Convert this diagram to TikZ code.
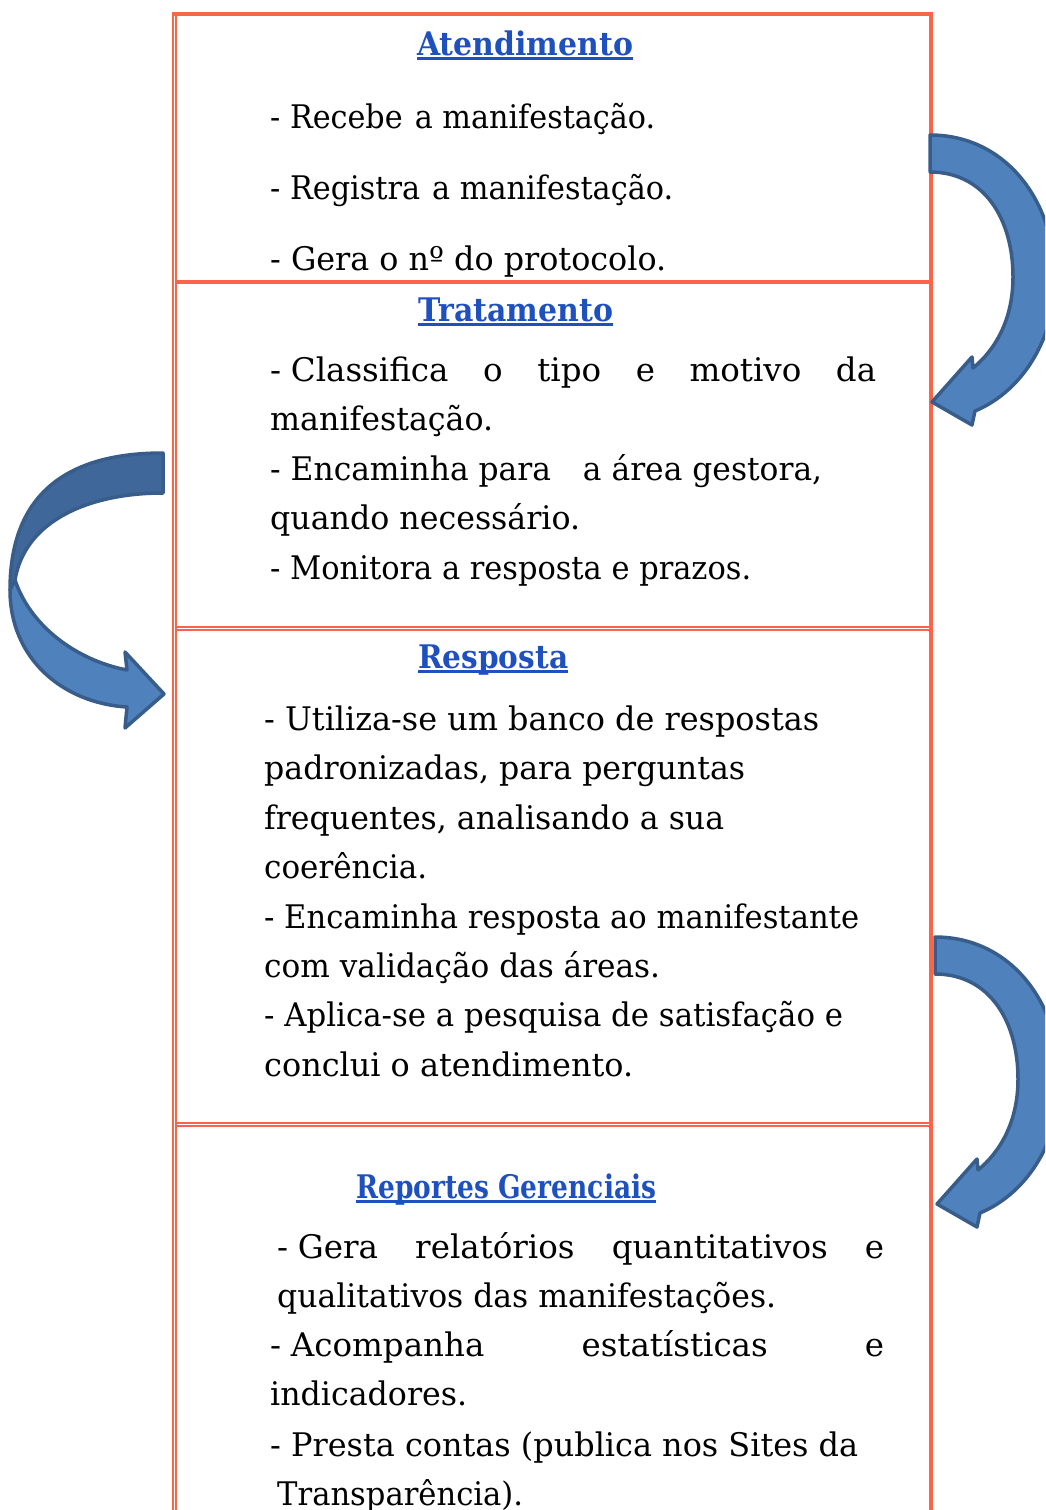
\documentclass[tikz,border=0pt]{standalone}
\usepackage{fontspec}
\setmainfont{DejaVu Serif}
\usepackage{graphicx}
\definecolor{boxred}{RGB}{250,100,72}
\definecolor{ttlblue}{RGB}{30,80,190}
\definecolor{arrfill}{RGB}{79,129,189}
\definecolor{arrdark}{RGB}{63,103,153}
\definecolor{arredge}{RGB}{56,93,138}
\newsavebox\fitbox
\newcommand\fitw[2]{\sbox\fitbox{#2}\pgfmathsetmacro\fitr{#1/\the\wd\fitbox}\scalebox{\fitr}[1]{\usebox\fitbox}}
\newcommand\justw[3]{\pgfmathsetmacro\jw{#1/#2}\scalebox{#2}[1]{\makebox[\jw pt][s]{#3}}}
\tikzset{
  txt/.style={anchor=base west, inner sep=0pt, font=\fontsize{32.5}{39}\selectfont},
  ttl/.style={anchor=base west, inner sep=0pt, text=ttlblue, font=\fontsize{32.5}{39}\selectfont\bfseries},
  uline/.style={draw=ttlblue, line width=2.7pt},
  thickred/.style={draw=boxred, line width=4pt},
  thinred/.style={draw=boxred, line width=1.9pt},
  arrowbody/.style={fill=arrfill, draw=arredge, line width=3.5pt, line join=round},
  arrowback/.style={fill=arrdark, draw=arredge, line width=3.5pt, line join=round},
}
\begin{document}
\begin{tikzpicture}[x=1pt,y=-1pt]
\useasboundingbox (0,0) rectangle (1045,1510);
\clip (0,0) rectangle (1045,1510);
% ---- box frame ----
\draw[thickred] (171.8,13.7) -- (933.3,13.7);
\draw[thinred] (172.8,11.7) -- (172.8,1510);
\draw[thinred] (176,13.7) -- (176,1510);
\draw[thickred] (931.3,11.7) -- (931.3,1510);
\draw[thickred] (176,282) -- (931.3,282);
\draw[thinred] (176,627) -- (931.3,627);
\draw[thinred] (176,630.3) -- (931.3,630.3);
\draw[thinred] (176,1123) -- (931.3,1123);
\draw[thinred] (176,1126.3) -- (931.3,1126.3);
% ---- box 1 ----
\node[ttl] (t1) at (417,55) {\fitw{216}{Atendimento}};
\draw[uline] ([yshift=-3.7pt]t1.base west) -- ([yshift=-3.7pt]t1.base east);
\node[txt] (a1) at (270,128) {\fitw{385}{- Recebe\hspace{0.08em} a manifestação.}};
\node[txt] (a2) at (270,199) {\fitw{403}{- Registra\hspace{0.08em} a manifestação.}};
\node[txt] (a3) at (270,270) {\fitw{396}{- Gera o nº do protocolo.}};
% ---- box 2 ----
\node[ttl] (t2) at (418,321) {\fitw{195}{Tratamento}};
\draw[uline] ([yshift=-3.7pt]t2.base west) -- ([yshift=-3.7pt]t2.base east);
\node[txt] (b1) at (270,381) {\justw{606}{1}{-\hspace{0.3em}Classifica o tipo e motivo da}};
\node[txt] (b2) at (270,430) {\fitw{223}{manifestação.}};
\node[txt] (b3) at (270,480) {\fitw{552}{- Encaminha para\hspace{0.7em} a área gestora,}};
\node[txt] (b4) at (270,529) {\fitw{310}{quando necessário.}};
\node[txt] (b5) at (270,579) {\fitw{481}{- Monitora a resposta e prazos.}};
% ---- box 3 ----
\node[ttl] (t3) at (418,668) {\fitw{150}{Resposta}};
\draw[uline] ([yshift=-3.7pt]t3.base west) -- ([yshift=-3.7pt]t3.base east);
\node[txt] (c1) at (264,730) {\fitw{555}{- Utiliza-se um banco de respostas}};
\node[txt] (c2) at (264,779) {\fitw{481}{padronizadas, para perguntas}};
\node[txt] (c3) at (264,829) {\fitw{460}{frequentes, analisando a sua}};
\node[txt] (c4) at (264,878) {\fitw{163}{coerência.}};
\node[txt] (c5) at (264,928) {\fitw{595}{- Encaminha resposta ao manifestante}};
\node[txt] (c6) at (264,977) {\fitw{396}{com validação das áreas.}};
\node[txt] (c7) at (264,1026) {\fitw{579}{- Aplica-se a pesquisa de satisfação e}};
\node[txt] (c8) at (264,1076) {\fitw{369}{conclui o atendimento.}};
% ---- box 4 ----
\node[ttl] (t4) at (356,1198) {\fitw{300}{Reportes Gerenciais}};
\draw[uline] ([yshift=-3.7pt]t4.base west) -- ([yshift=-3.7pt]t4.base east);
\node[txt] (d1) at (277,1258) {\justw{607}{1}{-\hspace{0.3em}Gera relatórios quantitativos e}};
\node[txt] (d2) at (277,1307) {\fitw{499}{qualitativos das manifestações.}};
\node[txt] (d3) at (270,1356) {\justw{614}{1}{-\hspace{0.3em}Acompanha estatísticas e}};
\node[txt] (d4) at (270,1405) {\fitw{197}{indicadores.}};
\node[txt] (d5) at (270,1456) {\fitw{588}{- Presta contas (publica nos Sites da}};
\node[txt] (d6) at (277,1505) {\fitw{246}{Transparência).}};
% ---- curved arrows ----
\newcommand\rcurve{(930,135) .. controls (1005,135) and (1055,200) .. (1055,280)
  .. controls (1055,335) and (1025,390) .. (975,411) -- (972,425) -- (932,402)
  -- (972,357) -- (973,368) .. controls (995,350) and (1013,320) .. (1013,277)
  .. controls (1013,220) and (985,172) .. (930,172) -- cycle}
\path[arrowbody] \rcurve;
\begin{scope}[shift={(5,802)}]
\path[arrowbody] \rcurve;
\end{scope}
\path[arrowback] (163,453) .. controls (60,453) and (10,500) .. (10,590)
  -- (15,580) .. controls (25,520) and (90,493) .. (163,493) -- cycle;
\path[arrowbody] (15,580) .. controls (30,625) and (75,660) .. (127,670)
  -- (125,652) -- (164,694) -- (125,728) -- (127,707)
  .. controls (62,703) and (10,658) .. (10,590) -- cycle;
\end{tikzpicture}
\end{document}
